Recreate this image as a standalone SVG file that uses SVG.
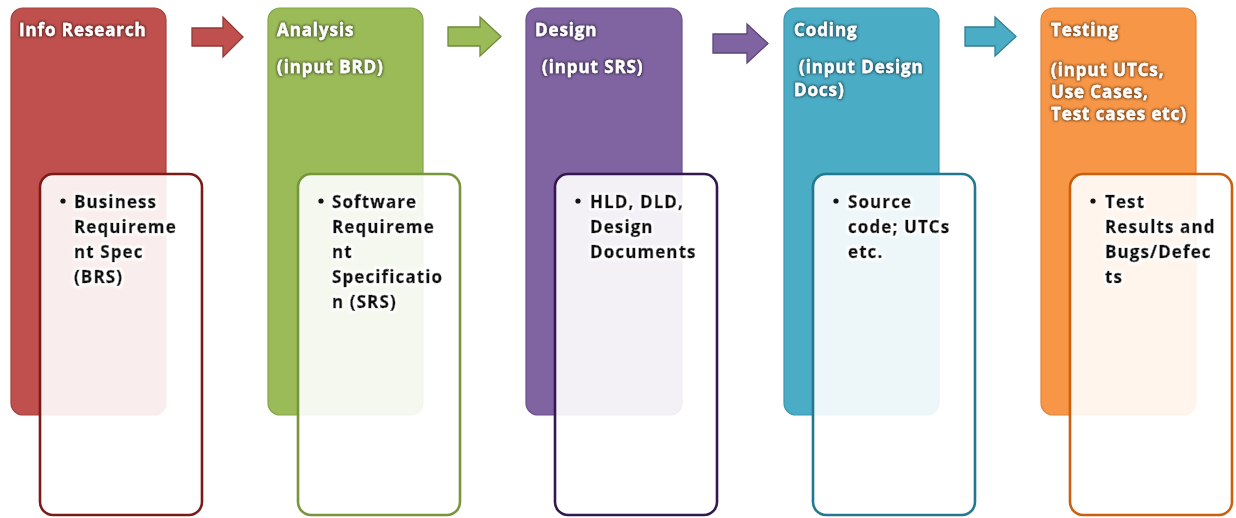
<svg xmlns="http://www.w3.org/2000/svg" width="1236" height="518" viewBox="0 0 1236 518">
  <style>
    .title { font-family: "Open Sans", Lato, "Liberation Sans", sans-serif; font-weight: 700; font-size: 17px; letter-spacing: 0.9px; fill: #ffffff; stroke: #ffffff; stroke-width: 0.3; filter: url(#haloDark); }
    .body { font-family: "Open Sans", Lato, "Liberation Sans", sans-serif; font-weight: 700; font-size: 17px; letter-spacing: 1.1px; fill: #111111; stroke: #111111; stroke-width: 0.55; filter: url(#haloLight); }
    .panel { stroke-width: 1.2; }
    .card { fill: #ffffff; fill-opacity: 0.9; stroke-width: 2.6; }
    .arrow { stroke-width: 1.3; stroke-linejoin: miter; }
    .dot { fill: #111111; }
  </style>
  <defs>
    <filter id="haloDark" x="-10%" y="-30%" width="120%" height="160%">
      <feMorphology in="SourceAlpha" operator="dilate" radius="1" result="grow"/>
      <feGaussianBlur in="grow" stdDeviation="0.8" result="soft"/>
      <feFlood flood-color="#000000" flood-opacity="0.45"/>
      <feComposite in2="soft" operator="in" result="shade"/>
      <feMerge><feMergeNode in="shade"/><feMergeNode in="SourceGraphic"/></feMerge>
    </filter>
    <filter id="haloLight" x="-10%" y="-30%" width="120%" height="160%">
      <feMorphology in="SourceAlpha" operator="dilate" radius="1.5" result="grow"/>
      <feGaussianBlur in="grow" stdDeviation="0.8" result="soft"/>
      <feFlood flood-color="#ffffff" flood-opacity="1"/>
      <feComposite in2="soft" operator="in" result="shine"/>
      <feMerge><feMergeNode in="shine"/><feMergeNode in="SourceGraphic"/></feMerge>
    </filter>
  </defs>

  <rect width="1236" height="518" fill="#ffffff"/>

  <!-- flow arrows between stages -->
  <g id="connectors">
    <path class="arrow" d="M192,28 H223 V17 L243,37 L223,57 V46 H192 Z" fill="#c0504d" stroke="#8e3a37"/>
    <path class="arrow" d="M448,27 H480 V17 L501,36.5 L480,56 V46 H448 Z" fill="#9bbb59" stroke="#6f8a3c"/>
    <path class="arrow" d="M713,34 H747 V24 L768,43.5 L747,63 V53 H713 Z" fill="#8064a2" stroke="#5a4576"/>
    <path class="arrow" d="M965,27 H995 V17 L1016,36.5 L995,56 V46 H965 Z" fill="#4bacc6" stroke="#327f93"/>
  </g>

  <!-- Stage 1 -->
  <g id="info-research">
    <rect class="panel" x="11" y="8" width="155" height="407" rx="12" fill="#c0504d" stroke="#a3403d"/>
    <text class="title" x="19" y="36">Info Research</text>
    <rect class="card" x="40" y="174" width="162" height="341" rx="13" stroke="#7a1b18"/>
    <circle class="dot" cx="63" cy="201" r="2.6"/>
    <text class="body" x="74" y="208">Business</text>
    <text class="body" x="74" y="233">Requireme</text>
    <text class="body" x="74" y="258">nt Spec</text>
    <text class="body" x="74" y="283">(BRS)</text>
  </g>

  <!-- Stage 2 -->
  <g id="analysis">
    <rect class="panel" x="268" y="8" width="155" height="407" rx="12" fill="#9bbb59" stroke="#85a349"/>
    <text class="title" x="277" y="36">Analysis</text>
    <text class="title" x="277" y="73">(input BRD)</text>
    <rect class="card" x="298" y="174" width="162" height="341" rx="13" stroke="#77953a"/>
    <circle class="dot" cx="321" cy="201" r="2.6"/>
    <text class="body" x="332" y="208">Software</text>
    <text class="body" x="332" y="233">Requireme</text>
    <text class="body" x="332" y="258">nt</text>
    <text class="body" x="332" y="283">Specificatio</text>
    <text class="body" x="332" y="308">n (SRS)</text>
  </g>

  <!-- Stage 3 -->
  <g id="design">
    <rect class="panel" x="526" y="8" width="156" height="407" rx="12" fill="#8064a2" stroke="#6a518b"/>
    <text class="title" x="535" y="36">Design</text>
    <text class="title" x="542" y="73">(input SRS)</text>
    <rect class="card" x="555" y="174" width="162" height="341" rx="13" stroke="#32184f"/>
    <circle class="dot" cx="578" cy="201" r="2.6"/>
    <text class="body" x="590" y="208">HLD, DLD,</text>
    <text class="body" x="590" y="233">Design</text>
    <text class="body" x="590" y="258">Documents</text>
  </g>

  <!-- Stage 4 -->
  <g id="coding">
    <rect class="panel" x="784" y="8" width="155" height="407" rx="12" fill="#4bacc6" stroke="#3a97b0"/>
    <text class="title" x="794" y="36">Coding</text>
    <text class="title" x="799" y="73">(input Design</text>
    <text class="title" x="794" y="96">Docs)</text>
    <rect class="card" x="813" y="174" width="162" height="341" rx="13" stroke="#21788f"/>
    <circle class="dot" cx="836" cy="201" r="2.6"/>
    <text class="body" x="848" y="208">Source</text>
    <text class="body" x="848" y="233">code; UTCs</text>
    <text class="body" x="848" y="258">etc.</text>
  </g>

  <!-- Stage 5 -->
  <g id="testing">
    <rect class="panel" x="1041" y="8" width="155" height="407" rx="12" fill="#f79646" stroke="#e2823a"/>
    <text class="title" x="1051" y="36">Testing</text>
    <text class="title" x="1051" y="76">(input UTCs,</text>
    <text class="title" x="1051" y="98">Use Cases,</text>
    <text class="title" x="1051" y="120">Test cases etc)</text>
    <rect class="card" x="1070" y="174" width="162" height="341" rx="13" stroke="#c8600f"/>
    <circle class="dot" cx="1093" cy="201" r="2.6"/>
    <text class="body" x="1105" y="208">Test</text>
    <text class="body" x="1105" y="233">Results and</text>
    <text class="body" x="1105" y="258">Bugs/Defec</text>
    <text class="body" x="1105" y="283">ts</text>
  </g>
</svg>
